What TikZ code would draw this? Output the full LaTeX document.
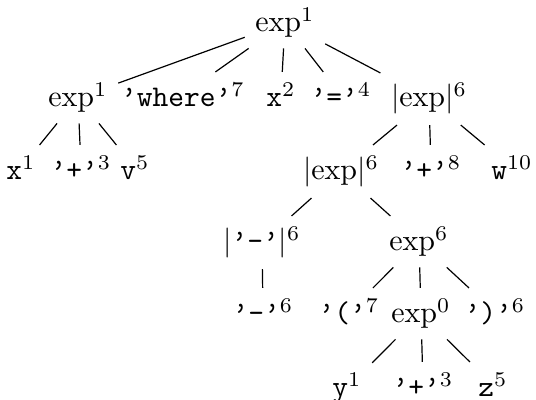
\documentclass[tikz,border=0pt]{standalone}

% quote and label macros
\newcommand{\qq}{\textquoteright}
\newcommand{\tk}[2]{\texttt{#1}$^{#2}$}
\newcommand{\nt}[2]{$\mathrm{#1}^{#2}$}

\begin{document}
\begin{tikzpicture}[x=0.33333pt, y=-0.33333pt,
    lbl/.style={anchor=base},
    edge/.style={line width=0.4pt}]
    \useasboundingbox (0,0) rectangle (536,400);

    % Root
    \node[lbl] (root) at (285,32) {\nt{exp}{1}};

    % First level
    \node[lbl] (e1) at (78,107) {\nt{exp}{1}};
    \node[lbl] (where) at (183,107) {\tk{\qq where\qq}{7}};
    \node[lbl] (x2) at (281,107) {\tk{x}{2}};
    \node[lbl] (eq) at (341,107) {\tk{\qq=\qq}{4}};
    \node[lbl] (abs1) at (429,107) {$|\mathrm{exp}|^6$};

    % Second level
    \node[lbl] (x1) at (21,180) {\tk{x}{1}};
    \node[lbl] (plus3) at (81,180) {\tk{\qq+\qq}{3}};
    \node[lbl] (v5) at (135,180) {\tk{v}{5}};
    \node[lbl] (abs2) at (341,180) {$|\mathrm{exp}|^6$};
    \node[lbl] (plus8) at (431,180) {\tk{\qq+\qq}{8}};
    \node[lbl] (w10) at (512,180) {\tk{w}{10}};

    % Third level
    \node[lbl] (absm) at (262,251) {$|\texttt{\qq-\qq}|^6$};
    \node[lbl] (e6) at (419,251) {\nt{exp}{6}};

    % Fourth level
    \node[lbl] (minus) at (263,323) {\tk{\qq-\qq}{6}};
    \node[lbl] (lpar) at (349,323) {\tk{\qq(\qq}{7}};
    \node[lbl] (e0) at (421,323) {\nt{exp}{0}};
    \node[lbl] (rpar) at (495,323) {\tk{\qq)\qq}{6}};

    % Fifth level
    \node[lbl] (y1) at (347,397) {\tk{y}{1}};
    \node[lbl] (plus3b) at (423,397) {\tk{\qq+\qq}{3}};
    \node[lbl] (z5) at (493,397) {\tk{z}{5}};

    % Draw the edges of the tree
    \foreach \c in {e1,where,x2,eq,abs1} \draw[edge] (root) -- (\c);
    \foreach \c in {x1,plus3,v5} \draw[edge] (e1) -- (\c);
    \foreach \c in {abs2,plus8,w10} \draw[edge] (abs1) -- (\c);
    \foreach \c in {absm,e6} \draw[edge] (abs2) -- (\c);
    \draw[edge] (absm) -- (minus);
    \foreach \c in {lpar,e0,rpar} \draw[edge] (e6) -- (\c);
    \foreach \c in {y1,plus3b,z5} \draw[edge] (e0) -- (\c);
\end{tikzpicture}
\end{document}
